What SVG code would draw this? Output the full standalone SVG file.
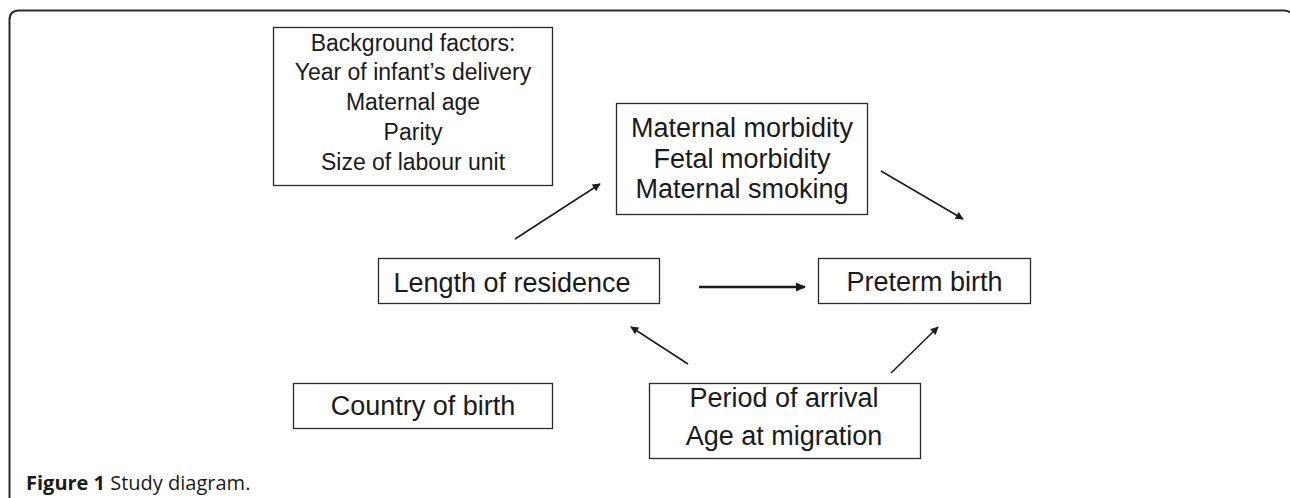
<svg xmlns="http://www.w3.org/2000/svg" width="1290" height="498" viewBox="0 0 1290 498">
<style>
  .box { fill: #ffffff; stroke: #2a2a2a; stroke-width: 1.3; }
  .t { font-family: "Liberation Sans", Arial, sans-serif; fill: #1a1a1a; text-anchor: middle; }
  .bg { font-size: 23px; }
  .lg { font-size: 27px; }
  .edge { stroke: #1a1a1a; stroke-width: 1.5; fill: none; marker-end: url(#ah); }
  .thick { stroke-width: 2.6; marker-end: url(#ah2); }
  .cap { font-family: "Open Sans", "Liberation Sans", sans-serif; font-size: 20px; fill: #1a1a1a; }
</style>
<defs>
  <marker id="ah" viewBox="0 0 10 10" refX="9" refY="5" markerWidth="10" markerHeight="8" markerUnits="userSpaceOnUse" orient="auto">
    <path d="M0,0 L10,5 L0,10 z" fill="#1a1a1a"/>
  </marker>
  <marker id="ah2" viewBox="0 0 10 10" refX="9" refY="5" markerWidth="14" markerHeight="10" markerUnits="userSpaceOnUse" orient="auto">
    <path d="M0,0.5 L10,5 L0,9.5 z" fill="#1a1a1a"/>
  </marker>
</defs>
<rect width="1290" height="498" fill="#ffffff"/>
<path id="frame" d="M9.5,498 L9.5,20 Q9.5,10.5 19,10.5 L1284,10.5 Q1289,10.5 1290,13" fill="none" stroke="#2a2a2a" stroke-width="2"/>

<g id="background">
  <rect class="box" x="273.5" y="27.5" width="279" height="158"/>
  <text class="t bg" x="413" y="51">Background factors:</text>
  <text class="t bg" x="413" y="80">Year of infant’s delivery</text>
  <text class="t bg" x="413" y="110">Maternal age</text>
  <text class="t bg" x="413" y="140">Parity</text>
  <text class="t bg" x="413" y="170">Size of labour unit</text>
</g>

<g id="morbidity">
  <rect class="box" x="616.5" y="103.5" width="251" height="111"/>
  <text class="t lg" x="742" y="137">Maternal morbidity</text>
  <text class="t lg" x="742" y="168">Fetal morbidity</text>
  <text class="t lg" x="742" y="198">Maternal smoking</text>
</g>

<g id="residence">
  <rect class="box" x="378.5" y="258.5" width="281" height="45"/>
  <text class="t lg" x="512" y="292">Length of residence</text>
</g>

<g id="preterm">
  <rect class="box" x="818.5" y="258.5" width="212" height="45"/>
  <text class="t lg" x="924.5" y="291">Preterm birth</text>
</g>

<g id="country">
  <rect class="box" x="293.5" y="383.5" width="259" height="45"/>
  <text class="t lg" x="423" y="415">Country of birth</text>
</g>

<g id="period">
  <rect class="box" x="649.5" y="383.5" width="271" height="75"/>
  <text class="t lg" x="784" y="407">Period of arrival</text>
  <text class="t lg" x="784" y="445">Age at migration</text>
</g>

<g id="connectors">
  <line class="edge" x1="515" y1="239" x2="600" y2="184"/>
  <line class="edge" x1="881" y1="171" x2="963" y2="219"/>
  <line class="edge thick" x1="699" y1="287" x2="805" y2="287"/>
  <line class="edge" x1="688" y1="364" x2="631" y2="327"/>
  <line class="edge" x1="891" y1="373" x2="938" y2="327"/>
</g>

<text class="cap" x="26" y="490"><tspan font-weight="bold">Figure 1</tspan> Study diagram.</text>
</svg>
